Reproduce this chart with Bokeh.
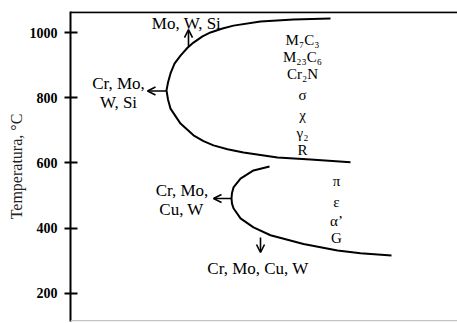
from bokeh.plotting import figure
from bokeh.models import Range1d, LinearAxis, FixedTicker, Arrow, OpenHead, ColumnDataSource, Span
from bokeh.core.properties import value
from bokeh.embed import file_html
from bokeh.resources import INLINE

# ---- data (x: arbitrary horizontal units, T: temperature in °C)
temp_ticks = [200, 400, 600, 800, 1000]

upper_x = [260, 223, 190, 163, 152, 140, 132, 123, 117, 110, 104, 100, 97.5, 96,
           97.5, 100, 110, 123, 133, 143, 157, 173, 207, 240, 280]
upper_T = [1044, 1041, 1035, 1022, 1013, 1001, 989, 970, 954, 930, 905, 875, 847, 823,
           795, 767, 721, 685, 667, 654, 642, 632, 617, 611, 602]

lower_x = [199, 183, 170, 163, 161.5, 161, 161.5, 163, 170, 183, 200, 217, 233, 250, 267, 290, 321]
lower_T = [589, 577, 552, 525, 508, 491, 475, 461, 430, 402, 378, 364, 351, 341, 331, 323, 316]

phases_high = ["M₇C₃", "M₂₃C₆", "Cr₂N", "σ", "χ", "γ₂", "R"]
phases_low = ["π", "ε", "α’", "G"]

element_labels = ["Mo, W, Si", "Cr, Mo,", "W, Si", "Cr, Mo,", "Cu, W", "Cr, Mo, Cu, W"]

# ---- annotation placement
phases_high_x = [232] * len(phases_high)
phases_high_y = [967, 912, 860, 798, 736, 680, 629]
phases_low_x = [266] * len(phases_low)
phases_low_y = [531, 469, 408, 356]

element_x = [116, 48, 48, 111.5, 111, 187.5]
element_y = [1016, 832, 774, 502, 445, 264]

arrow_x0 = [118, 96, 161, 190]
arrow_y0 = [958, 821, 491, 371]
arrow_x1 = [118, 77, 143, 190]
arrow_y1 = [1010, 821, 491, 325]

SERIF = "Liberation Serif"
Y0, Y1 = 113, 1065.4

p = figure(width=457, height=323, x_range=Range1d(0, 387), y_range=Range1d(Y0, Y1),
           output_backend="svg", toolbar_location=None,
           x_axis_location=None, y_axis_location=None,
           min_border_left=70, min_border_right=0, min_border_top=11, min_border_bottom=2)
p.grid.visible = False
p.outline_line_color = None
p.background_fill_color = "white"
p.border_fill_color = "white"

yaxis = LinearAxis(ticker=FixedTicker(ticks=temp_ticks), axis_label="Temperatura, °C")
yaxis.axis_line_width = 2
yaxis.axis_line_color = "black"
yaxis.major_tick_line_width = 2
yaxis.major_tick_line_color = "black"
yaxis.major_tick_in = 7
yaxis.major_tick_out = 6
yaxis.minor_tick_line_color = None
yaxis.major_label_text_font = SERIF
yaxis.major_label_text_font_style = "bold"
yaxis.major_label_text_font_size = "14px"
yaxis.major_label_text_color = "black"
yaxis.major_label_standoff = 7
yaxis.axis_label_text_font = SERIF
yaxis.axis_label_text_font_style = "normal"
yaxis.axis_label_text_font_size = "16px"
yaxis.axis_label_text_color = "#222222"
yaxis.axis_label_standoff = 2
p.add_layout(yaxis, "left")

p.add_layout(Span(location=Y1 - 2.5, dimension="width", line_color="black", line_width=2))
p.add_layout(Span(location=Y0 + 2, dimension="width", line_color="#c4c4c4", line_width=1.5))

p.line(upper_x, upper_T, line_color="black", line_width=2, line_join="round")
p.line(lower_x, lower_T, line_color="black", line_width=2, line_join="round")

asrc = ColumnDataSource(dict(x0=arrow_x0, y0=arrow_y0, x1=arrow_x1, y1=arrow_y1))
p.add_layout(Arrow(end=OpenHead(size=8, line_width=1.6, line_color="black"),
                   x_start="x0", y_start="y0", x_end="x1", y_end="y1",
                   line_width=1.6, line_color="black", source=asrc))

p.text(x=element_x, y=element_y, text=element_labels, text_font=value(SERIF),
       text_font_size="17px", text_align="center", text_baseline="alphabetic",
       text_color="black", y_offset=-4)
p.text(x=phases_high_x, y=phases_high_y, text=phases_high, text_font=value(SERIF),
       text_font_size="15px", text_align="center", text_baseline="alphabetic",
       text_color="black", y_offset=-4)
p.text(x=phases_low_x, y=phases_low_y, text=phases_low, text_font=value(SERIF),
       text_font_size="15px", text_align="center", text_baseline="alphabetic",
       text_color="black", y_offset=-4)

open("out.html", "w").write(file_html(p, INLINE))
